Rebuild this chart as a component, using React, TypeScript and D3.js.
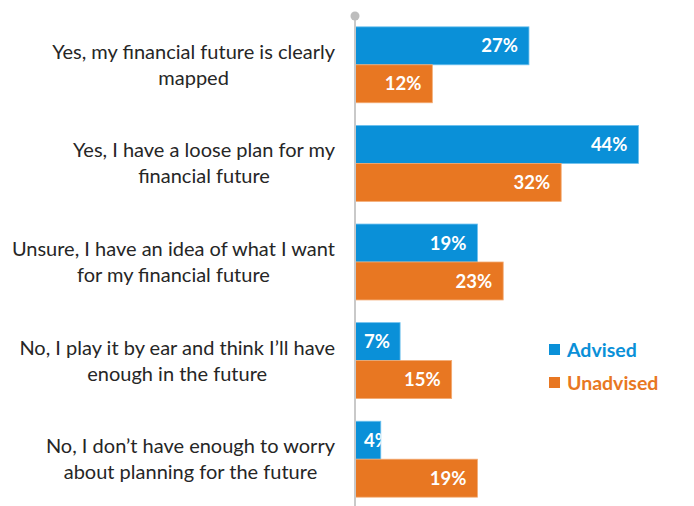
import React, { useEffect, useRef } from "react";
import * as d3 from "d3";

const categories: string[][] = [
  ["Yes, my financial future is clearly", "mapped"],
  ["Yes, I have a loose plan for my", "financial future"],
  ["Unsure, I have an idea of what I want", "for my financial future"],
  ["No, I play it by ear and think I\u2019ll have", "enough in the future"],
  ["No, I don\u2019t have enough to worry", "about planning for the future"],
];
const advised = [27, 44, 19, 7, 4];
const unadvised = [12, 32, 23, 15, 19];
const seriesNames = ["Advised", "Unadvised"];
const colors = ["#0a90d8", "#e87722"];
const strokes = ["#6cc0ee", "#f3aa72"];

const W = 694;
const H = 506;
const FONT = "Lato, 'Open Sans', sans-serif";

export default function App() {
  const ref = useRef<SVGSVGElement | null>(null);

  useEffect(() => {
    const svg = d3.select(ref.current);
    svg.selectAll("*").remove();
    const defs = svg.append("defs");

    const x0 = 355;
    const x = d3.scaleLinear().domain([0, 44]).range([x0, 638.5]);
    const y = d3
      .scaleBand<number>()
      .domain(d3.range(categories.length))
      .range([16, 508])
      .paddingInner(0.23)
      .paddingOuter(0.11);
    const bw = y.bandwidth() / 2;

    const data = categories.map((c, i) => ({ i, vals: [advised[i], unadvised[i]] }));

    // bars
    const g = svg.append("g");
    data.forEach((d) => {
      d.vals.forEach((v, s) => {
        const by = (y(d.i) as number) + s * bw;
        const wdt = x(v) - x(0);
        const id = `clip-${d.i}-${s}`;
        defs
          .append("clipPath")
          .attr("id", id)
          .append("rect")
          .attr("x", x(0))
          .attr("y", by)
          .attr("width", wdt)
          .attr("height", bw);
        g.append("rect")
          .attr("x", x(0))
          .attr("y", by)
          .attr("width", wdt)
          .attr("height", bw)
          .attr("fill", colors[s])
          .attr("stroke", strokes[s])
          .attr("stroke-width", 0.8);
        const txt = g
          .append("text")
          .attr("y", by + bw / 2)
          .attr("dy", "0.36em")
          .attr("fill", "#ffffff")
          .attr("font-family", FONT)
          .attr("font-weight", 700)
          .attr("font-size", 18.5)
          .attr("clip-path", `url(#${id})`)
          .text(`${v}%`);
        const tw = (txt.node() as SVGTextElement).getComputedTextLength();
        if (tw + 20 > wdt) {
          txt.attr("x", x(0) + 9).attr("text-anchor", "start");
        } else {
          txt.attr("x", x(v) - 11).attr("text-anchor", "end");
        }
      });
    });

    // axis line
    svg
      .append("line")
      .attr("x1", x0)
      .attr("x2", x0)
      .attr("y1", 16)
      .attr("y2", H)
      .attr("stroke", "#c9c9c9")
      .attr("stroke-width", 2);
    svg
      .append("circle")
      .attr("cx", x0)
      .attr("cy", 16)
      .attr("r", 4.5)
      .attr("fill", "#bdbdbd");

    // category labels
    const labelRight = 335;
    data.forEach((d) => {
      const cy = (y(d.i) as number) + y.bandwidth() / 2;
      const t = svg
        .append("g")
        .attr("font-family", FONT)
        .attr("font-size", 20)
        .attr("fill", "#262626");
      const lines = categories[d.i].map((ln, k) =>
        t
          .append("text")
          .attr("y", cy - 6 + k * 26)
          .attr("text-anchor", "middle")
          .text(ln)
      );
      const maxW = d3.max(lines, (l) => (l.node() as SVGTextElement).getComputedTextLength()) || 0;
      lines.forEach((l) => l.attr("x", labelRight - maxW / 2));
    });

    // legend
    const lg = svg.append("g");
    seriesNames.forEach((n, s) => {
      const ly = 350 + s * 33;
      lg.append("rect")
        .attr("x", 549)
        .attr("y", ly - 6)
        .attr("width", 11)
        .attr("height", 11)
        .attr("fill", colors[s]);
      lg.append("text")
        .attr("x", 567)
        .attr("y", ly)
        .attr("dy", "0.36em")
        .attr("fill", colors[s])
        .attr("font-family", FONT)
        .attr("font-weight", 700)
        .attr("font-size", 19.5)
        .text(n);
    });
  }, []);

  return (
    <svg
      ref={ref}
      width={W}
      height={H}
      style={{ position: "absolute", left: 0, top: 0, background: "#ffffff" }}
    />
  );
}
